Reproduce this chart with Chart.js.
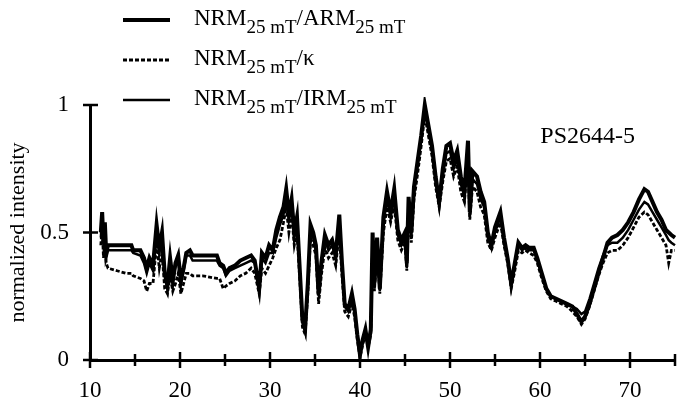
<!DOCTYPE html>
<html>
<head>
<meta charset="utf-8">
<script src="https://cdn.jsdelivr.net/npm/chart.js@4.4.0/dist/chart.umd.min.js"></script>
<style>
  body { margin: 0; background: #fff; }
  #wrap { width: 684px; height: 401px; }
</style>
</head>
<body>
<div id="wrap"><canvas id="chart" width="684" height="401"></canvas></div>
<script>
// depth (m) and the three normalized NRM ratios
const depth = [
  11.2, 11.35, 11.5, 11.65, 11.8, 12.0, 13.0, 14.0, 14.6, 14.8,
  15.6, 16.0, 16.3, 16.6, 17.0, 17.4, 17.7, 18.0, 18.3, 18.6,
  18.9, 19.2, 19.5, 19.8, 20.1, 20.4, 20.7, 21.1, 21.4, 22.5,
  24.1, 24.4, 24.8, 25.1, 25.5, 26.1, 26.7, 27.3, 27.9, 28.3,
  28.8, 29.1, 29.5, 29.9, 30.3, 30.7, 31.1, 31.5, 31.8, 32.1,
  32.4, 32.7, 33.0, 33.3, 33.6, 33.9, 34.2, 34.5, 34.8, 35.1,
  35.4, 35.7, 36.1, 36.5, 36.9, 37.3, 37.7, 38.0, 38.3, 38.7,
  39.1, 39.4, 39.7, 40.0, 40.3, 40.6, 40.9, 41.2, 41.4, 41.6,
  41.9, 42.2, 42.6, 43.0, 43.4, 43.8, 44.2, 44.6, 45.0, 45.2,
  45.4, 45.7, 46.0, 46.4, 46.8, 47.2, 47.6, 48.0, 48.4, 48.8,
  49.2, 49.6, 50.0, 50.4, 50.8, 51.2, 51.6, 52.0, 52.2, 52.5,
  53.0, 53.4, 53.8, 54.2, 54.6, 55.0, 55.6, 56.0, 56.4, 56.8,
  57.2, 57.6, 58.0, 58.4, 58.8, 59.3, 59.7, 60.2, 60.7, 61.2,
  61.8, 62.4, 63.0, 63.6, 64.1, 64.6, 65.0, 65.5, 66.0, 66.5,
  67.0, 67.5, 68.0, 68.6, 69.2, 69.8, 70.4, 71.0, 71.6, 72.0,
  72.5, 73.0, 73.5, 74.0, 74.3, 74.6, 75.0
];

const nrmArm = [
  0.50, 0.58, 0.46, 0.54, 0.42, 0.45, 0.45, 0.45, 0.45, 0.43,
  0.43, 0.40, 0.36, 0.40, 0.37, 0.53, 0.44, 0.50, 0.34, 0.29,
  0.40, 0.31, 0.38, 0.41, 0.31, 0.36, 0.42, 0.43, 0.41, 0.41,
  0.41, 0.38, 0.37, 0.34, 0.36, 0.37, 0.39, 0.40, 0.41, 0.39,
  0.28, 0.42, 0.40, 0.45, 0.43, 0.51, 0.56, 0.60, 0.67, 0.57,
  0.63, 0.50, 0.56, 0.36, 0.16, 0.12, 0.30, 0.53, 0.50, 0.45,
  0.26, 0.38, 0.49, 0.45, 0.47, 0.41, 0.57, 0.38, 0.22, 0.20,
  0.26, 0.20, 0.10, 0.02, 0.08, 0.12, 0.05, 0.12, 0.50, 0.30,
  0.48, 0.28, 0.56, 0.66, 0.58, 0.67, 0.51, 0.47, 0.50, 0.38,
  0.64, 0.50, 0.68, 0.78, 0.88, 1.00, 0.92, 0.84, 0.72, 0.62,
  0.75, 0.84, 0.85, 0.78, 0.82, 0.72, 0.66, 0.86, 0.58, 0.74,
  0.72, 0.66, 0.62, 0.50, 0.45, 0.52, 0.58, 0.48, 0.40, 0.30,
  0.38, 0.46, 0.44, 0.45, 0.44, 0.44, 0.40, 0.34, 0.28, 0.25,
  0.24, 0.23, 0.22, 0.21, 0.18, 0.15, 0.17, 0.22, 0.28, 0.34,
  0.40, 0.46, 0.48, 0.49, 0.51, 0.54, 0.58, 0.63, 0.67, 0.66,
  0.62, 0.58, 0.55, 0.51, 0.50, 0.49, 0.48
];

const nrmKappa = [
  0.45, 0.52, 0.40, 0.48, 0.38, 0.36, 0.35, 0.34, 0.34, 0.33,
  0.32, 0.31, 0.27, 0.30, 0.30, 0.46, 0.36, 0.42, 0.28, 0.26,
  0.33, 0.27, 0.30, 0.34, 0.26, 0.30, 0.34, 0.34, 0.33, 0.33,
  0.32, 0.32, 0.28, 0.29, 0.30, 0.31, 0.33, 0.34, 0.36, 0.34,
  0.26, 0.36, 0.34, 0.37, 0.40, 0.44, 0.47, 0.54, 0.60, 0.50,
  0.57, 0.45, 0.50, 0.32, 0.13, 0.10, 0.26, 0.48, 0.45, 0.41,
  0.22, 0.33, 0.44, 0.40, 0.42, 0.37, 0.50, 0.33, 0.19, 0.17,
  0.22, 0.17, 0.08, 0.01, 0.06, 0.10, 0.05, 0.10, 0.45, 0.27,
  0.44, 0.26, 0.50, 0.60, 0.54, 0.61, 0.47, 0.43, 0.46, 0.35,
  0.58, 0.46, 0.63, 0.73, 0.84, 0.96, 0.88, 0.80, 0.68, 0.60,
  0.70, 0.78, 0.79, 0.72, 0.76, 0.66, 0.62, 0.78, 0.55, 0.68,
  0.66, 0.60, 0.57, 0.46, 0.43, 0.48, 0.54, 0.45, 0.38, 0.28,
  0.35, 0.43, 0.42, 0.43, 0.42, 0.41, 0.38, 0.32, 0.27, 0.24,
  0.23, 0.22, 0.21, 0.19, 0.17, 0.14, 0.16, 0.21, 0.27, 0.33,
  0.38, 0.42, 0.43, 0.43, 0.45, 0.48, 0.52, 0.56, 0.58, 0.57,
  0.54, 0.51, 0.48, 0.45, 0.38, 0.43, 0.43
];

const nrmIrm = [
  0.48, 0.55, 0.44, 0.52, 0.40, 0.43, 0.43, 0.43, 0.43, 0.42,
  0.41, 0.38, 0.34, 0.38, 0.35, 0.50, 0.42, 0.47, 0.33, 0.30,
  0.38, 0.31, 0.37, 0.39, 0.30, 0.35, 0.41, 0.41, 0.39, 0.39,
  0.39, 0.37, 0.36, 0.33, 0.35, 0.36, 0.37, 0.38, 0.39, 0.38,
  0.28, 0.40, 0.38, 0.42, 0.42, 0.48, 0.53, 0.57, 0.64, 0.55,
  0.60, 0.48, 0.54, 0.34, 0.15, 0.11, 0.28, 0.50, 0.48, 0.43,
  0.25, 0.36, 0.47, 0.43, 0.45, 0.40, 0.54, 0.36, 0.21, 0.19,
  0.24, 0.19, 0.10, 0.03, 0.07, 0.11, 0.06, 0.11, 0.48, 0.28,
  0.46, 0.27, 0.53, 0.63, 0.56, 0.64, 0.49, 0.45, 0.48, 0.36,
  0.61, 0.48, 0.65, 0.76, 0.86, 0.98, 0.90, 0.82, 0.70, 0.61,
  0.72, 0.81, 0.82, 0.75, 0.79, 0.69, 0.64, 0.82, 0.56, 0.71,
  0.69, 0.63, 0.60, 0.48, 0.44, 0.50, 0.56, 0.46, 0.39, 0.30,
  0.37, 0.45, 0.43, 0.44, 0.43, 0.43, 0.39, 0.33, 0.28, 0.25,
  0.24, 0.23, 0.22, 0.21, 0.20, 0.18, 0.19, 0.24, 0.30, 0.36,
  0.41, 0.45, 0.46, 0.46, 0.48, 0.51, 0.55, 0.59, 0.62, 0.61,
  0.58, 0.55, 0.52, 0.49, 0.47, 0.46, 0.45
];

const seriesLabels = ['NRM_{25 mT}/ARM_{25 mT}', 'NRM_{25 mT}/κ', 'NRM_{25 mT}/IRM_{25 mT}'];
const yTickLabels = { 0: '0', 0.5: '0.5', 1: '1' };
const coreName = 'PS2644-5';
const yTitle = 'normalized intensity';

const serif = '"Liberation Serif", "Times New Roman", serif';

function toPoints(values) {
  return depth.map((d, i) => ({ x: d, y: values[i] }));
}

// label text with _{...} parts drawn as subscripts
function drawRichLabel(ctx, text, x, y) {
  const parts = text.split(/(_\{[^}]*\})/);
  parts.forEach(p => {
    if (!p) return;
    if (p.startsWith('_{')) {
      const s = p.slice(2, -1);
      ctx.font = '19px ' + serif;
      ctx.fillText(s, x, y + 8);
      x += ctx.measureText(s).width;
    } else {
      ctx.font = '23px ' + serif;
      ctx.fillText(p, x, y);
      x += ctx.measureText(p).width;
    }
  });
}

const paperLegend = {
  id: 'paperLegend',
  afterDraw(chart) {
    const ctx = chart.ctx;
    ctx.save();
    ctx.fillStyle = '#000';
    ctx.strokeStyle = '#000';
    ctx.textBaseline = 'alphabetic';
    ctx.textAlign = 'left';
    chart.data.datasets.forEach((ds, i) => {
      const y = 25 + i * 40;
      ctx.lineWidth = ds.legendWidth;
      ctx.setLineDash(ds.borderDash || []);
      ctx.beginPath();
      ctx.moveTo(123, y - 5);
      ctx.lineTo(170, y - 5);
      ctx.stroke();
      ctx.setLineDash([]);
      drawRichLabel(ctx, ds.label, 194, y);
    });
    ctx.restore();
  }
};

// tick marks crossing the axis lines, plus the core name
const axisMarks = {
  id: 'axisMarks',
  afterDraw(chart) {
    const { ctx, scales: { x, y } } = chart;
    ctx.save();
    ctx.strokeStyle = '#000';
    ctx.lineWidth = 2.5;
    x.ticks.forEach(t => {
      const px = x.getPixelForValue(t.value);
      const h = t.value % 10 === 0 ? 8 : 6;
      ctx.beginPath();
      ctx.moveTo(px, x.top - h);
      ctx.lineTo(px, x.top + h);
      ctx.stroke();
    });
    y.ticks.forEach(t => {
      const py = y.getPixelForValue(t.value);
      ctx.beginPath();
      ctx.moveTo(y.right - 7, py);
      ctx.lineTo(y.right + 8, py);
      ctx.stroke();
    });
    ctx.fillStyle = '#000';
    ctx.font = '24px ' + serif;
    ctx.textAlign = 'center';
    ctx.textBaseline = 'alphabetic';
    ctx.fillText(coreName, x.getPixelForValue(65.3), y.getPixelForValue(0.85));
    ctx.restore();
  }
};

const ctx = document.getElementById('chart');

new Chart(ctx, {
  type: 'line',
  data: {
    datasets: [
      {
        label: seriesLabels[0],
        data: toPoints(nrmArm),
        borderColor: '#000',
        borderWidth: 4,
        legendWidth: 4,
        pointRadius: 0,
        tension: 0,
        fill: false,
        clip: 8
      },
      {
        label: seriesLabels[1],
        data: toPoints(nrmKappa),
        borderColor: '#000',
        borderWidth: 2.8,
        borderDash: [4, 2],
        legendWidth: 3,
        pointRadius: 0,
        tension: 0,
        fill: false,
        clip: 8
      },
      {
        label: seriesLabels[2],
        data: toPoints(nrmIrm),
        borderColor: '#000',
        borderWidth: 2.5,
        legendWidth: 2.5,
        pointRadius: 0,
        tension: 0,
        fill: false,
        clip: 8
      }
    ]
  },
  options: {
    responsive: false,
    animation: false,
    events: [],
    layout: { padding: { top: 105, right: 9, left: 0, bottom: 0 } },
    plugins: {
      legend: { display: false },
      tooltip: { enabled: false }
    },
    scales: {
      x: {
        type: 'linear',
        min: 10,
        max: 75,
        grid: { display: false },
        border: { display: true, color: '#000', width: 3 },
        ticks: {
          stepSize: 5,
          autoSkip: false,
          maxRotation: 0,
          color: '#000',
          padding: 9,
          font: { family: serif, size: 23 },
          callback: v => (v % 10 === 0 ? v : '')
        },
        afterFit: s => { s.height = 41; }
      },
      y: {
        min: 0,
        max: 1,
        grid: { display: false },
        border: { display: true, color: '#000', width: 3 },
        ticks: {
          stepSize: 0.5,
          color: '#000',
          padding: 13,
          font: { family: serif, size: 23 },
          callback: v => yTickLabels[v] ?? ''
        },
        title: {
          display: true,
          text: yTitle,
          color: '#000',
          font: { family: serif, size: 22 },
          padding: { top: 5, bottom: 0 }
        },
        afterFit: s => { s.width = 90; }
      }
    }
  },
  plugins: [paperLegend, axisMarks]
});
</script>
</body>
</html>
